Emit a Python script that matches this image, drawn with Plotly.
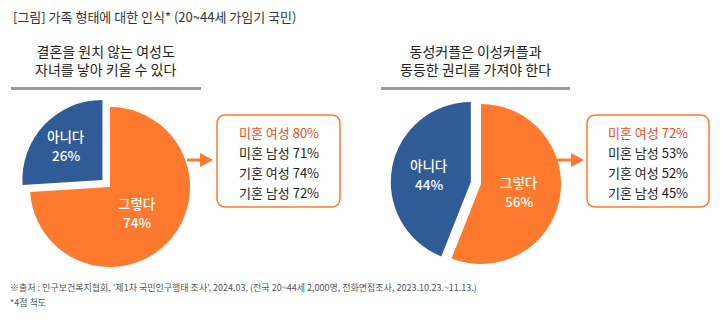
import math
import plotly.graph_objects as go

W, H = 724, 323
FONT = "Noto Sans CJK KR"
ORANGE = "#FF7A2E"
BLUE = "#2F5B96"
RED_TXT = "#E8501E"

header = "[그림] 가족 형태에 대한 인식* (20~44세 가임기 국민)"
titles = ["결혼을 원치 않는 여성도<br>자녀를 낳아 키울 수 있다",
          "동성커플은 이성커플과<br>동등한 권리를 가져야 한다"]
labels = ["그렇다", "아니다"]
values_left = [74, 26]
values_right = [56, 44]
groups = ["미혼 여성", "미혼 남성", "기혼 여성", "기혼 남성"]
agree_left = [80, 71, 74, 72]
agree_right = [72, 53, 52, 45]
footer = ["※출처 : 인구보건복지협회, '제1차 국민인구행태 조사', 2024.03. (전국 20~44세 2,000명, 전화면접조사, 2023.10.23.~11.13.)",
          "*4점 척도"]

PULL = 0.13
R = 80
pies = [dict(vals=values_left, c=(110, 187), k=[0.47, 0.62]),
        dict(vals=values_right, c=(481, 184), k=[0.48, 0.53])]


def dom(cx, cy):
    half = R * (1 + PULL)
    yb = H - cy
    return dict(x=[(cx - half) / W, (cx + half) / W], y=[(yb - half) / H, (yb + half) / H])


fig = go.Figure()
# invisible pixel axes for shapes/annotations
fig.add_trace(go.Scatter(x=[0, W], y=[0, H], mode="markers", marker=dict(opacity=0),
                         hoverinfo="skip", showlegend=False))

annotations = []
for p in pies:
    cx, cy = p["c"]
    pulls = [0, PULL]
    fig.add_trace(go.Pie(
        labels=labels, values=p["vals"], sort=False, direction="clockwise", rotation=0,
        pull=pulls, marker=dict(colors=[ORANGE, BLUE], line=dict(width=0)),
        textinfo="none", domain=dom(cx, cy), showlegend=False, hoverinfo="skip"))
    total = sum(p["vals"])
    cum = 0
    for lab, v, pl, k in zip(labels, p["vals"], pulls, p["k"]):
        th = 2 * math.pi * (cum + v / 2) / total
        cum += v
        dx, dy = math.sin(th), -math.cos(th)
        px = cx + (pl + k) * R * dx
        py = cy + (pl + k) * R * dy
        for j, t in enumerate([lab, f"{v}%"]):
            annotations.append(dict(x=px, y=py - 9.5 + 19 * j, xref="x", yref="y", text=t,
                                    showarrow=False, xanchor="center", yanchor="middle",
                                    font=dict(family=FONT, size=13.5, color="white", weight=500)))

shapes = []

annotations.append(dict(x=11, y=16, xref="x", yref="y", text=header, showarrow=False,
                        xanchor="left", yanchor="middle",
                        font=dict(family=FONT, size=13, color="#333333")))

for t, xc, (x0, x1) in [(titles[0], 105, (11, 201)), (titles[1], 475, (381, 570))]:
    annotations.append(dict(x=xc, y=60, xref="x", yref="y", text=t, showarrow=False,
                            xanchor="center", yanchor="middle", align="center",
                            font=dict(family=FONT, size=14, color="#222222")))
    shapes.append(dict(type="line", xref="x", yref="y", x0=x0, x1=x1, y0=88.5, y1=88.5,
                       line=dict(color="#9A9A9A", width=3)))


def rbox(x0, y0, x1, y1, r):
    return (f"M{x0+r},{y0} L{x1-r},{y0} Q{x1},{y0} {x1},{y0+r} L{x1},{y1-r} Q{x1},{y1} {x1-r},{y1} "
            f"L{x0+r},{y1} Q{x0},{y1} {x0},{y1-r} L{x0},{y0+r} Q{x0},{y0} {x0+r},{y0} Z")


for agree, (bx0, bx1), (ax0, ax1) in [(agree_left, (217, 340), (187, 213)),
                                       (agree_right, (587, 709), (557, 584))]:
    shapes.append(dict(type="path", xref="x", yref="y", path=rbox(bx0, 115, bx1, 207, 9),
                       line=dict(color=ORANGE, width=1.5), fillcolor="white", layer="above"))
    hx = ax1 - 13
    shapes.append(dict(type="line", xref="x", yref="y", x0=ax0, x1=hx + 1, y0=160, y1=160,
                       line=dict(color=ORANGE, width=3), layer="above"))
    shapes.append(dict(type="path", xref="x", yref="y",
                       path=f"M{hx},153 L{ax1},160 L{hx},167 Z",
                       line=dict(width=0), fillcolor=ORANGE, layer="above"))
    xc = (bx0 + bx1) / 2
    for i, (g, v) in enumerate(zip(groups, agree)):
        annotations.append(dict(x=xc, y=132 + 20 * i, xref="x", yref="y", text=f"{g} {v}%",
                                showarrow=False, xanchor="center", yanchor="middle",
                                font=dict(family=FONT, size=13,
                                          color=RED_TXT if i == 0 else "#222222")))

for i, f in enumerate(footer):
    annotations.append(dict(x=8, y=287 + 15 * i, xref="x", yref="y", text=f, showarrow=False,
                            xanchor="left", yanchor="middle",
                            font=dict(family=FONT, size=9, color="#555555")))

fig.update_layout(
    width=W, height=H, margin=dict(l=0, r=0, t=0, b=0),
    paper_bgcolor="white", plot_bgcolor="rgba(0,0,0,0)",
    xaxis=dict(range=[0, W], visible=False, domain=[0, 1], fixedrange=True),
    yaxis=dict(range=[H, 0], visible=False, domain=[0, 1], fixedrange=True),
    shapes=shapes, annotations=annotations,
)

fig.write_html("out.html", config={"displayModeBar": False})
